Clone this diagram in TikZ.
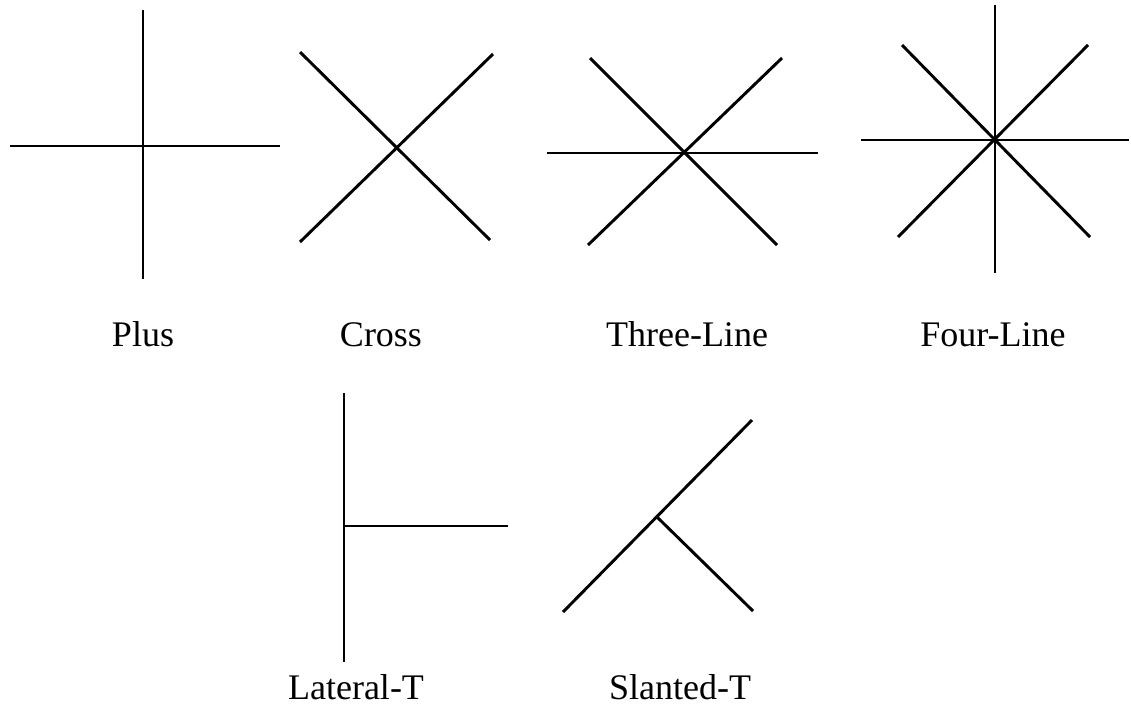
\documentclass[tikz,border=0pt]{standalone}
\usepackage{fontspec}
\setmainfont{Liberation Serif}
\begin{document}
\begin{tikzpicture}[x=0.75pt,y=-0.75pt,
  ln/.style={line width=2.2pt,line cap=butt},
  lbl/.style={anchor=base,inner sep=0pt,font=\fontsize{27}{32}\selectfont}]
\useasboundingbox (0,0) rectangle (1131,708);
% Plus
\coordinate (p1) at (143,10); \coordinate (p2) at (143,279);
\coordinate (p3) at (10,146); \coordinate (p4) at (280,146);
\draw[ln] (p1) -- (p2); \draw[ln] (p3) -- (p4);
% Cross
\coordinate (c1) at (300,52); \coordinate (c2) at (490,240);
\coordinate (c3) at (493,54); \coordinate (c4) at (300,242);
\draw[ln] (c1) -- (c2); \draw[ln] (c3) -- (c4);
% Three-Line
\coordinate (t1) at (547,153); \coordinate (t2) at (818,153);
\coordinate (t3) at (590,58); \coordinate (t4) at (777,245);
\coordinate (t5) at (782,58); \coordinate (t6) at (588,245);
\draw[ln] (t1) -- (t2); \draw[ln] (t3) -- (t4); \draw[ln] (t5) -- (t6);
% Four-Line
\coordinate (f1) at (995,5); \coordinate (f2) at (995,273);
\coordinate (f3) at (861,140); \coordinate (f4) at (1129,140);
\coordinate (f5) at (902,45); \coordinate (f6) at (1090,237);
\coordinate (f7) at (1088,45); \coordinate (f8) at (898,237);
\draw[ln] (f1) -- (f2); \draw[ln] (f3) -- (f4);
\draw[ln] (f5) -- (f6); \draw[ln] (f7) -- (f8);
% Lateral-T
\coordinate (l1) at (344,393); \coordinate (l2) at (344,662);
\coordinate (l3) at (344,526); \coordinate (l4) at (508,526);
\draw[ln] (l1) -- (l2); \draw[ln] (l3) -- (l4);
% Slanted-T
\coordinate (s1) at (563,612); \coordinate (s2) at (752,420);
\coordinate (s3) at (657,517); \coordinate (s4) at (753,611);
\draw[ln] (s1) -- (s2); \draw[ln] (s3) -- (s4);
% labels
\node[lbl] (nplus) at (143,346) {Plus};
\node[lbl] (ncross) at (381,346) {Cross};
\node[lbl] (nthree) at (687,346) {Three-Line};
\node[lbl] (nfour) at (993,346) {Four-Line};
\node[lbl] (nlat) at (356,699) {Lateral-T};
\node[lbl] (nslant) at (680,699) {Slanted-T};
\end{tikzpicture}
\end{document}
